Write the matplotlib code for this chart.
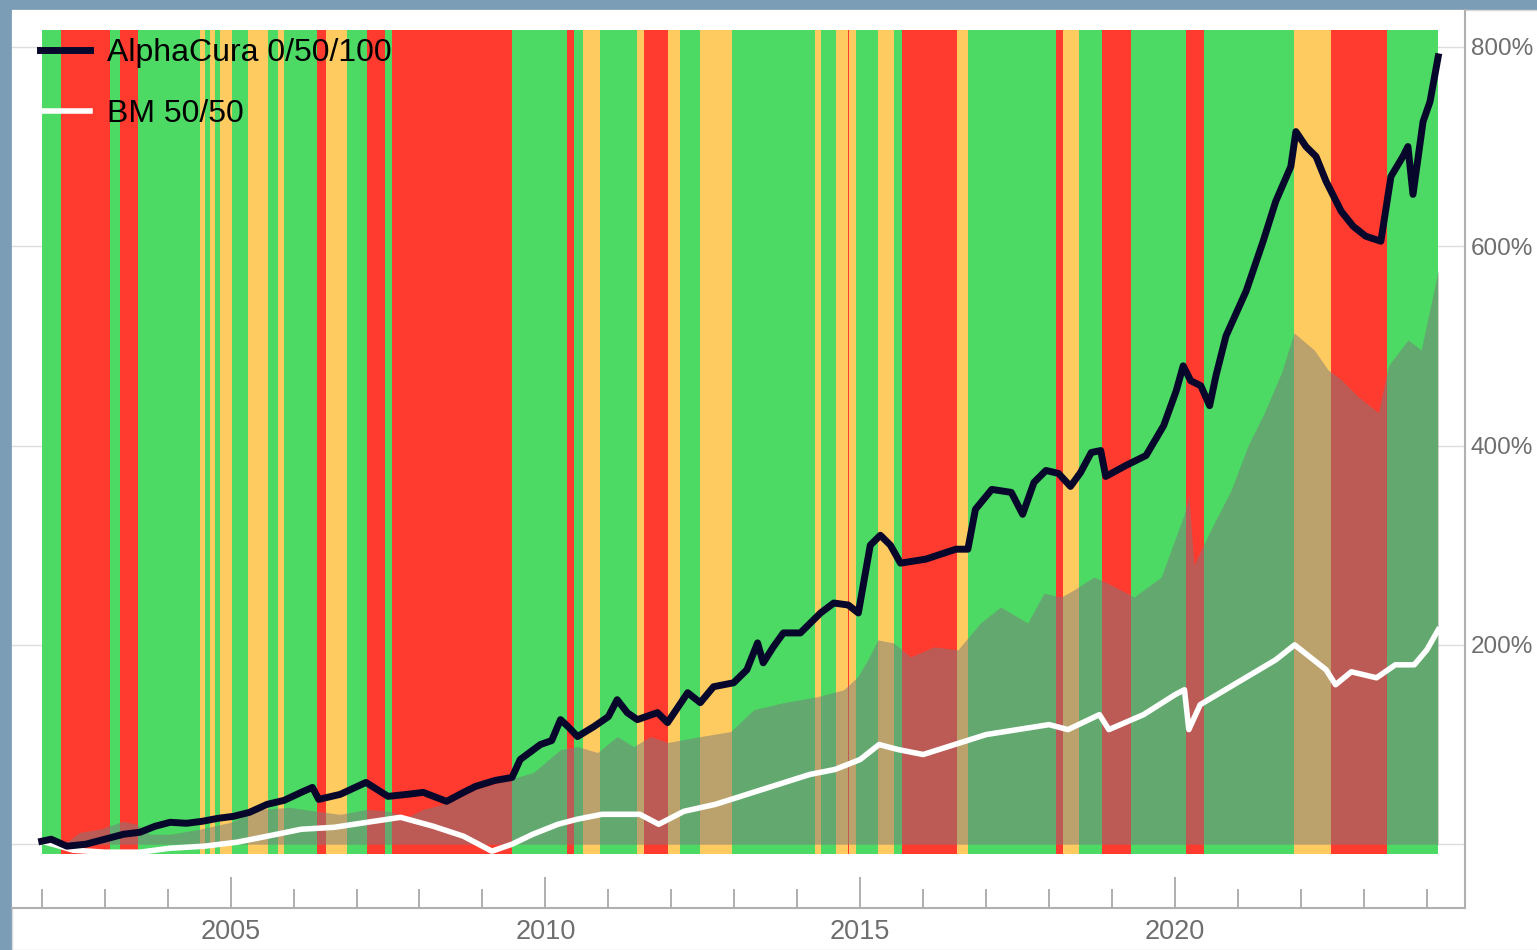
import matplotlib
matplotlib.use("Agg")
import matplotlib.pyplot as plt
from matplotlib.patches import Rectangle

plt.rcParams['font.family'] = ['Liberation Sans', 'DejaVu Sans']

# regime bands: start year of each band and its state (G/Y/R)
band_starts = [2002.00, 2002.30, 2003.08, 2003.24, 2003.53, 2004.51, 2004.59, 2004.67,
               2004.75, 2004.83, 2005.02, 2005.28, 2005.59, 2005.75, 2005.85, 2006.37,
               2006.52, 2006.85, 2007.17, 2007.45, 2007.57, 2009.47, 2010.35, 2010.46,
               2010.60, 2010.86, 2011.46, 2011.57, 2011.94, 2012.13, 2012.45, 2012.96,
               2014.28, 2014.37, 2014.61, 2014.80, 2014.83, 2014.94, 2015.29, 2015.53,
               2015.66, 2016.53, 2016.71, 2018.11, 2018.22, 2018.47, 2018.84, 2019.30,
               2020.17, 2020.46, 2021.89, 2022.48, 2023.37]
band_states = ['G', 'R', 'G', 'R', 'G', 'Y', 'G', 'Y',
               'G', 'Y', 'G', 'Y', 'G', 'Y', 'G', 'R',
               'Y', 'G', 'R', 'G', 'R', 'G', 'R', 'G',
               'Y', 'G', 'Y', 'R', 'Y', 'G', 'Y', 'G',
               'Y', 'G', 'Y', 'R', 'Y', 'G', 'Y', 'G',
               'R', 'Y', 'G', 'R', 'Y', 'G', 'R', 'G',
               'R', 'G', 'Y', 'R', 'G']
band_end = 2024.18

# AlphaCura 0/50/100 cumulative return (%)
alpha_t = [2002.00, 2002.15, 2002.40, 2002.70, 2003.00, 2003.30, 2003.56, 2003.80, 2004.04,
           2004.30, 2004.55, 2004.80, 2005.05, 2005.30, 2005.58, 2005.85, 2006.12, 2006.30,
           2006.40, 2006.74, 2007.15, 2007.50, 2007.80, 2008.06, 2008.43, 2008.70, 2008.89,
           2009.20, 2009.47, 2009.60, 2009.92, 2010.10, 2010.24, 2010.36, 2010.51, 2010.77,
           2011.00, 2011.14, 2011.30, 2011.46, 2011.78, 2011.94, 2012.26, 2012.46, 2012.67,
           2012.99, 2013.20, 2013.37, 2013.46, 2013.62, 2013.78, 2014.05, 2014.37, 2014.58,
           2014.81, 2014.97, 2015.16, 2015.32, 2015.48, 2015.64, 2016.04, 2016.52, 2016.71,
           2016.83, 2017.09, 2017.40, 2017.58, 2017.76, 2017.95, 2018.15, 2018.34, 2018.50,
           2018.67, 2018.82, 2018.90, 2019.22, 2019.54, 2019.82, 2020.02, 2020.13, 2020.25,
           2020.41, 2020.55, 2020.65, 2020.81, 2021.13, 2021.40, 2021.60, 2021.84, 2021.92,
           2022.08, 2022.24, 2022.40, 2022.64, 2022.83, 2023.03, 2023.27, 2023.43, 2023.62,
           2023.70, 2023.78, 2023.94, 2024.05, 2024.18]
alpha_v = [3, 5, -2, 0, 5, 10, 12, 18, 22,
           21, 23, 26, 28, 32, 40, 44, 52, 57,
           45, 50, 62, 48, 50, 52, 43, 52, 58,
           64, 67, 85, 100, 104, 125, 118, 108, 118,
           128, 145, 132, 125, 132, 122, 152, 142, 158,
           162, 175, 202, 182, 198, 212, 212, 232, 242,
           240, 232, 300, 310, 300, 282, 286, 296, 296,
           336, 356, 353, 331, 363, 375, 372, 359, 373,
           393, 395, 369, 380, 390, 420, 455, 480, 465,
           460, 440, 470, 510, 555, 605, 645, 680, 715,
           700, 690, 665, 635, 620, 610, 605, 670, 690,
           700, 652, 725, 745, 790]

# BM 50/50 cumulative return (%)
bm_t = [2002.00, 2002.29, 2002.50, 2003.00, 2003.56, 2004.04, 2004.58, 2005.10, 2005.58,
        2006.12, 2006.65, 2007.17, 2007.70, 2008.22, 2008.70, 2009.00, 2009.15, 2009.47,
        2009.80, 2010.20, 2010.50, 2010.90, 2011.50, 2011.80, 2012.20, 2012.70, 2013.20,
        2013.70, 2014.20, 2014.60, 2015.00, 2015.30, 2015.60, 2016.00, 2016.50, 2017.00,
        2017.50, 2018.00, 2018.30, 2018.80, 2018.95, 2019.50, 2020.00, 2020.15, 2020.22,
        2020.40, 2020.80, 2021.20, 2021.60, 2021.90, 2022.10, 2022.40, 2022.55, 2022.80,
        2023.20, 2023.50, 2023.80, 2024.00, 2024.18]
bm_v = [3, -2, -6, -8, -8, -4, -2, 2, 8,
        15, 17, 22, 27, 18, 8, -2, -7, 0,
        10, 20, 25, 30, 30, 20, 33, 40, 50,
        60, 70, 75, 85, 100, 95, 90, 100, 110,
        115, 120, 115, 130, 115, 130, 150, 155, 115,
        140, 155, 170, 185, 200, 190, 175, 160, 173,
        167, 180, 180, 195, 215]

# shaded comparison series (%)
shade_t = [2002.00, 2002.29, 2002.61, 2002.92, 2003.29, 2003.51, 2003.72, 2004.04, 2004.51,
           2005.00, 2005.47, 2005.94, 2006.37, 2006.74, 2007.17, 2007.53, 2007.80, 2008.06,
           2008.49, 2008.89, 2009.28, 2009.49, 2009.81, 2010.24, 2010.51, 2010.83, 2011.14,
           2011.40, 2011.67, 2011.94, 2012.46, 2012.94, 2013.31, 2013.78, 2014.32, 2014.74,
           2014.96, 2015.12, 2015.28, 2015.53, 2015.80, 2016.17, 2016.55, 2016.91, 2017.23,
           2017.66, 2017.92, 2018.19, 2018.39, 2018.71, 2018.93, 2019.35, 2019.78, 2020.14,
           2020.22, 2020.30, 2020.45, 2020.62, 2020.89, 2021.16, 2021.42, 2021.69, 2021.89,
           2022.21, 2022.43, 2022.64, 2022.91, 2023.23, 2023.39, 2023.70, 2023.91, 2024.18]
shade_v = [0, -3, 12, 15, 23, 20, 10, 10, 15,
           22, 35, 37, 33, 30, 35, 33, 27, 35,
           42, 55, 62, 66, 72, 95, 98, 92, 108,
           98, 108, 102, 108, 113, 135, 142, 148, 155,
           168, 185, 205, 202, 188, 198, 195, 222, 238,
           222, 252, 248, 255, 268, 262, 248, 268, 330,
           350, 280, 300, 322, 355, 400, 433, 473, 513,
           496, 476, 466, 449, 433, 480, 506, 496, 576]

y_ticks = [0, 200, 400, 600, 800]
y_labels = ['', '200%', '400%', '600%', '800%']
x_major = [2005, 2010, 2015, 2020]
x_minor = list(range(2002, 2025))

colors = {'G': '#4cd964', 'Y': '#fecb60', 'R': '#ff3b30'}

fig = plt.figure(figsize=(15.37, 9.5), dpi=100, facecolor='#7b9db5')
panel = Rectangle((12 / 1537, 0), 1, 940 / 950, transform=fig.transFigure,
                  facecolor='white', edgecolor='#d8d8d8', lw=1, zorder=-10)
fig.patches.append(panel)
ax = fig.add_axes([12 / 1537, 42 / 950, 1453 / 1537, 898 / 950])
ax.set_facecolor('white')

ends = band_starts[1:] + [band_end]
for s, e, st in zip(band_starts, ends, band_states):
    ax.fill_between([s, e], -10, 817, color=colors[st], lw=0, zorder=1)

ax.fill_between(shade_t, 0, shade_v, color='#7a7a7a', alpha=0.5, lw=0, zorder=2)
ax.plot(bm_t, bm_v, color='white', lw=4, zorder=3, label='BM 50/50')
ax.plot(alpha_t, alpha_v, color='#07072b', lw=5, zorder=4, label='AlphaCura 0/50/100')

ax.set_xlim(2001.528, 2024.606)
ax.set_ylim(-64, 837)

ax.yaxis.tick_right()
ax.set_yticks(y_ticks)
ax.set_yticklabels(y_labels)
ax.tick_params(axis='y', length=0, pad=4, labelsize=17.5, labelcolor='#6e6e6e')
ax.grid(axis='y', color='#dddddd', lw=1, zorder=0)
ax.set_axisbelow(True)

ax.set_xticks(x_major)
ax.set_xticks(x_minor, minor=True)
ax.set_xticklabels([str(v) for v in x_major])
ax.tick_params(axis='x', which='major', direction='in', length=22, width=1.1,
               color='#999999', pad=8, labelsize=19.5, labelcolor='#6e6e6e')
ax.tick_params(axis='x', which='minor', direction='in', length=14, width=1.1, color='#999999')

for side in ['top', 'left']:
    ax.spines[side].set_visible(False)
for side in ['bottom', 'right']:
    ax.spines[side].set_color('#b0b0b0')
    ax.spines[side].set_linewidth(1.5)

handles, labels = ax.get_legend_handles_labels()
ax.legend(handles[::-1], labels[::-1], loc='upper left', bbox_to_anchor=(0.0193, 0.969),
          frameon=False, fontsize=23, handlelength=1.55, handletextpad=0.55,
          labelspacing=0.98, borderpad=0, borderaxespad=0)

fig.savefig('out.png', dpi=100, facecolor=fig.get_facecolor())
